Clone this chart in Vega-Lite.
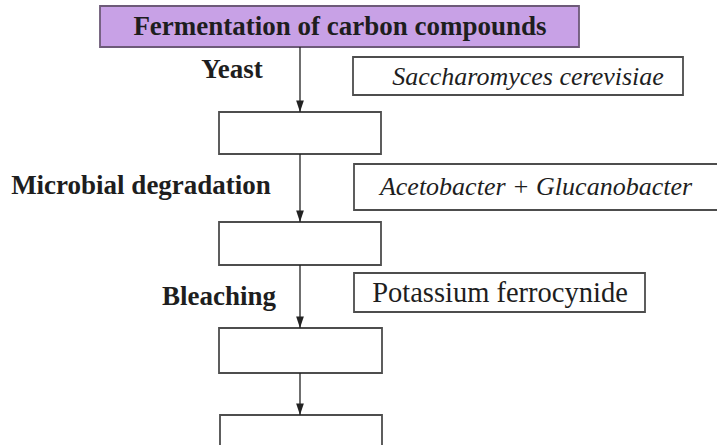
{
  "$schema": "https://vega.github.io/schema/vega-lite/v6.json",
  "width": 717,
  "height": 445,
  "autosize": {"type": "fit", "contains": "padding"},
  "padding": 0,
  "background": "white",
  "config": {"view": {"stroke": null}},
  "datasets": {
    "boxes": [
      {"id": "source", "kind": "source", "x": 100, "x2": 579, "y": 6, "y2": 47},
      {"id": "sacch", "kind": "agent", "x": 353, "x2": 683, "y": 57, "y2": 95},
      {"id": "b1", "kind": "step", "x": 219, "x2": 381, "y": 112, "y2": 154},
      {"id": "aceto", "kind": "agent", "x": 354, "x2": 730, "y": 164, "y2": 210},
      {"id": "b2", "kind": "step", "x": 219, "x2": 381, "y": 222, "y2": 265},
      {"id": "pot", "kind": "agent", "x": 354, "x2": 645, "y": 273, "y2": 312},
      {"id": "b3", "kind": "step", "x": 219, "x2": 382, "y": 328, "y2": 373},
      {"id": "b4", "kind": "step", "x": 220, "x2": 382, "y": 415, "y2": 470}
    ],
    "arrows": [
      {"x": 300, "y": 47, "y2": 112},
      {"x": 300, "y": 154, "y2": 222},
      {"x": 300, "y": 265, "y2": 328},
      {"x": 300, "y": 373, "y2": 415}
    ],
    "labels": [
      {"text": "Fermentation of carbon compounds", "style": "bold", "x": 340, "y": 27},
      {"text": "Yeast", "style": "bold", "x": 232, "y": 70},
      {"text": "Microbial degradation", "style": "bold", "x": 141, "y": 186},
      {"text": "Bleaching", "style": "bold", "x": 219, "y": 297},
      {"text": "Saccharomyces cerevisiae", "style": "italic", "x": 528, "y": 77},
      {"text": "Acetobacter + Glucanobacter", "style": "italic", "x": 536, "y": 187},
      {"text": "Potassium ferrocynide", "style": "normal", "x": 500, "y": 293}
    ]
  },
  "layer": [
    {
      "data": {"name": "boxes"},
      "mark": {"type": "rect", "strokeWidth": 1.8, "clip": true},
      "encoding": {
        "x": {"field": "x", "type": "quantitative", "scale": {"domain": [0, 717], "nice": false, "zero": false}, "axis": null},
        "x2": {"field": "x2"},
        "y": {"field": "y", "type": "quantitative", "scale": {"domain": [0, 445], "reverse": true, "nice": false, "zero": false}, "axis": null},
        "y2": {"field": "y2"},
        "fill": {"field": "kind", "type": "nominal", "scale": {"domain": ["source", "agent", "step"], "range": ["#c8a1e6", "#ffffff", "#ffffff"]}, "legend": null},
        "stroke": {"field": "kind", "type": "nominal", "scale": {"domain": ["source", "agent", "step"], "range": ["#6d5a78", "#4d4d4d", "#4d4d4d"]}, "legend": null}
      }
    },
    {
      "data": {"name": "arrows"},
      "mark": {"type": "rule", "color": "#222222", "strokeWidth": 1.3},
      "encoding": {
        "x": {"field": "x", "type": "quantitative"},
        "y": {"field": "y", "type": "quantitative"},
        "y2": {"field": "y2"}
      }
    },
    {
      "data": {"name": "arrows"},
      "mark": {"type": "point", "filled": true, "color": "#222222", "opacity": 1, "shape": "M-0.7,-2.1L0.7,-2.1L0,0Z", "size": 121},
      "encoding": {
        "x": {"field": "x", "type": "quantitative"},
        "y": {"field": "y2", "type": "quantitative"}
      }
    },
    {
      "data": {"name": "labels"},
      "transform": [{"filter": "datum.style === 'bold'"}],
      "mark": {"type": "text", "font": "Liberation Serif", "fontWeight": "bold", "fontSize": 27, "color": "#1e1e1e", "baseline": "middle", "align": "center"},
      "encoding": {
        "x": {"field": "x", "type": "quantitative"},
        "y": {"field": "y", "type": "quantitative"},
        "text": {"field": "text"}
      }
    },
    {
      "data": {"name": "labels"},
      "transform": [{"filter": "datum.style === 'italic'"}],
      "mark": {"type": "text", "font": "Liberation Serif", "fontStyle": "italic", "fontSize": 26, "color": "#1e1e1e", "baseline": "middle", "align": "center"},
      "encoding": {
        "x": {"field": "x", "type": "quantitative"},
        "y": {"field": "y", "type": "quantitative"},
        "text": {"field": "text"}
      }
    },
    {
      "data": {"name": "labels"},
      "transform": [{"filter": "datum.style === 'normal'"}],
      "mark": {"type": "text", "font": "Liberation Serif", "fontSize": 28.5, "color": "#1e1e1e", "baseline": "middle", "align": "center"},
      "encoding": {
        "x": {"field": "x", "type": "quantitative"},
        "y": {"field": "y", "type": "quantitative"},
        "text": {"field": "text"}
      }
    }
  ]
}
